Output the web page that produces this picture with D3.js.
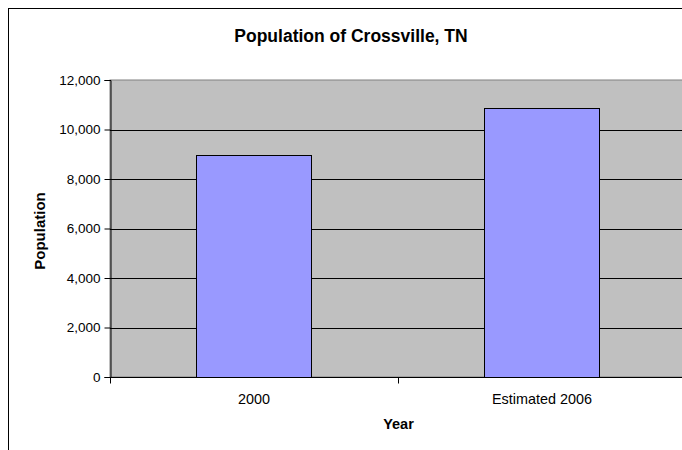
<!DOCTYPE html>
<html>
<head>
<meta charset="utf-8">
<script src="https://cdn.jsdelivr.net/npm/d3@7"></script>
<style>
  html, body { margin: 0; padding: 0; background: #fff; }
  svg { display: block; font-family: "Liberation Sans", Arial, sans-serif; }
</style>
</head>
<body>
<svg id="chart" width="682" height="450"></svg>
<script>
// Population figures for Crossville, Tennessee
const years = ["2000", "Estimated 2006"];
const population = [8981, 10857];
const yTicks = [0, 2000, 4000, 6000, 8000, 10000, 12000];

const svg = d3.select("#chart");
const plot = { left: 110, top: 80, right: 686, bottom: 377 };

// outer chart frame
svg.append("rect")
  .attr("x", 8.5).attr("y", 8.5)
  .attr("width", 700).attr("height", 500)
  .attr("fill", "#fff").attr("stroke", "#000").attr("stroke-width", 1);

const x = d3.scaleBand().domain(years)
  .range([plot.left, plot.right]).paddingInner(0).paddingOuter(0);
const y = d3.scaleLinear().domain([0, 12000]).range([plot.bottom, plot.top]);

// plot background
svg.append("rect")
  .attr("x", plot.left).attr("y", plot.top)
  .attr("width", plot.right - plot.left).attr("height", plot.bottom - plot.top)
  .attr("fill", "#C0C0C0").attr("stroke", "#808080");

// horizontal gridlines
svg.append("g").selectAll("line")
  .data(yTicks.filter(d => d > 0 && d < 12000))
  .join("line")
  .attr("x1", plot.left).attr("x2", plot.right)
  .attr("y1", d => Math.round(y(d)) + 0.5).attr("y2", d => Math.round(y(d)) + 0.5)
  .attr("stroke", "#000");

// bars: width is 1/2.5 of the category band
const barW = x.bandwidth() / 2.5;
svg.append("g").selectAll("rect")
  .data(years.map((c, i) => ({ c, v: population[i] })))
  .join("rect")
  .attr("x", d => Math.round(x(d.c) + (x.bandwidth() - barW) / 2) + 0.5)
  .attr("y", d => Math.round(y(d.v)) + 0.5)
  .attr("width", Math.round(barW))
  .attr("height", d => Math.round(y(0)) - Math.round(y(d.v)))
  .attr("fill", "#9999FF").attr("stroke", "#000");

// y axis
const yAxis = svg.append("g")
  .attr("transform", `translate(${plot.left + 0.5},0)`)
  .call(d3.axisLeft(y).tickValues(yTicks).tickSize(6).tickPadding(4)
    .tickFormat(d3.format(",")));
yAxis.select(".domain").attr("stroke", "#000");
yAxis.selectAll(".tick text").attr("font-size", 13.5).attr("fill", "#000")
  .attr("font-family", "Liberation Sans, Arial, sans-serif");

// x axis with ticks at category boundaries
const xAxis = svg.append("g")
  .attr("transform", `translate(0,${Math.round(plot.bottom) + 0.5})`);
xAxis.append("line")
  .attr("x1", plot.left).attr("x2", plot.right)
  .attr("stroke", "#000");
xAxis.selectAll("line.tk")
  .data([plot.left, ...years.slice(1).map(c => x(c))])
  .join("line").attr("class", "tk")
  .attr("x1", d => Math.round(d) + 0.5).attr("x2", d => Math.round(d) + 0.5)
  .attr("y1", 0).attr("y2", 6).attr("stroke", "#000");
xAxis.selectAll("text")
  .data(years)
  .join("text")
  .attr("x", d => x(d) + x.bandwidth() / 2)
  .attr("y", 26)
  .attr("text-anchor", "middle")
  .attr("font-size", 14.4)
  .text(d => d);

// titles
svg.append("text")
  .attr("x", 351).attr("y", 42)
  .attr("text-anchor", "middle")
  .attr("font-size", 17.5).attr("font-weight", "bold")
  .text("Population of Crossville, TN");

svg.append("text")
  .attr("x", 398.5).attr("y", 429)
  .attr("text-anchor", "middle")
  .attr("font-size", 14.5).attr("font-weight", "bold")
  .text("Year");

svg.append("text")
  .attr("transform", "translate(44.5,231) rotate(-90)")
  .attr("text-anchor", "middle")
  .attr("font-size", 15).attr("font-weight", "bold")
  .text("Population");
</script>
</body>
</html>
